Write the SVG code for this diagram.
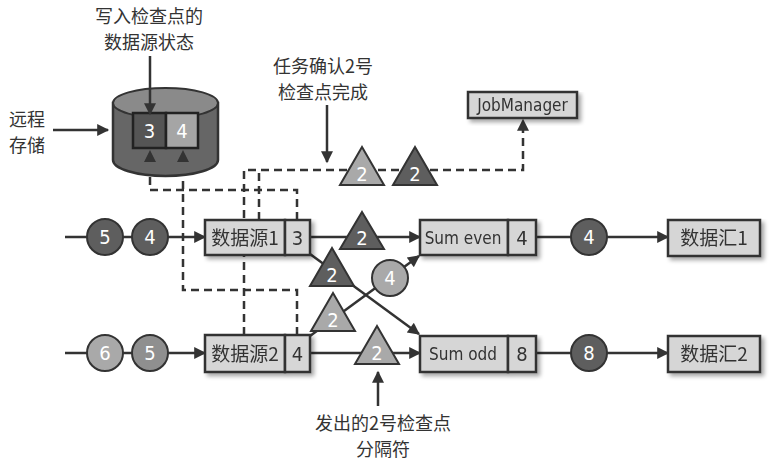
<svg xmlns="http://www.w3.org/2000/svg" width="774" height="466" viewBox="0 0 774 466">
<defs>
<marker id="ah" viewBox="0 0 10 10" refX="9" refY="5" markerWidth="14" markerHeight="12" markerUnits="userSpaceOnUse" orient="auto">
<path d="M0,0 L10,5 L0,10 z" fill="#333"/>
</marker>
<filter id="sh" x="-10%" y="-10%" width="130%" height="140%">
<feGaussianBlur in="SourceAlpha" stdDeviation="2"/>
<feOffset dx="3" dy="3" result="b"/>
<feComponentTransfer><feFuncA type="linear" slope="0.35"/></feComponentTransfer>
<feMerge><feMergeNode/><feMergeNode in="SourceGraphic"/></feMerge>
</filter>
<style>
.box{fill:#d6d6d6;stroke:#333;stroke-width:2.5}
.ln{stroke:#333;stroke-width:2.5;fill:none}
.dash{stroke:#333;stroke-width:2.5;fill:none;stroke-dasharray:8 5}
.dk{fill:#5e5e5e;stroke:#333;stroke-width:2}
.lt{fill:#a9a9a9;stroke:#333;stroke-width:2}
.md{fill:#8f8f8f;stroke:#333;stroke-width:2}
.wt{fill:#fff;font-family:"DejaVu Sans Condensed","Liberation Sans",sans-serif;font-size:20px;text-anchor:middle}
.bt{fill:#333;font-family:"DejaVu Sans Condensed","Liberation Sans",sans-serif;font-size:20px;text-anchor:middle}
.sm{fill:#333;font-family:"DejaVu Sans Condensed","Liberation Sans",sans-serif;font-size:17px;text-anchor:middle}
.cn{fill:#333;font-family:"Noto Sans CJK SC",sans-serif;font-size:19px;text-anchor:middle}
.lb{fill:#333;font-family:"Noto Sans CJK SC",sans-serif;font-size:18px;text-anchor:middle}
</style>
</defs>
<rect width="774" height="466" fill="#fff"/>

<g id="connectors">
<path class="dash" d="M297,220 V190 H150 V152" marker-end="url(#ah)"/>
<path class="dash" d="M297,335 V290 H183 V152" marker-end="url(#ah)"/>
<path class="dash" d="M244,335 V170 H523 V120" marker-end="url(#ah)"/>
<path class="dash" d="M259,220 V170"/>
<path class="ln" d="M65,237 H205" marker-end="url(#ah)"/>
<path class="ln" d="M65,353 H205" marker-end="url(#ah)"/>
<path class="ln" d="M310,237 H420" marker-end="url(#ah)"/>
<path class="ln" d="M310,353 H420" marker-end="url(#ah)"/>
<path class="ln" d="M310,254 L419,334" marker-end="url(#ah)"/>
<path class="ln" d="M310,336 L419,256" marker-end="url(#ah)"/>
<path class="ln" d="M536,237 H668" marker-end="url(#ah)"/>
<path class="ln" d="M536,353 H668" marker-end="url(#ah)"/>
<path class="ln" d="M53,130 H108" marker-end="url(#ah)"/>
<path class="ln" d="M327,105 V162" marker-end="url(#ah)"/>
<path class="ln" d="M378,406 V372" marker-end="url(#ah)"/>
</g>

<g id="storage">
<path d="M113,103 V160 A52.5,16 0 0 0 218,160 V103 Z" fill="#666" stroke="#333" stroke-width="2.5"/>
<ellipse cx="165.5" cy="103" rx="52.5" ry="15" fill="#8a8a8a" stroke="#333" stroke-width="2"/>
<rect x="133" y="113" width="33" height="35" fill="#555" stroke="#222" stroke-width="2.5"/>
<rect x="166" y="113" width="32" height="35" fill="#a5a5a5" stroke="#222" stroke-width="2.5"/>
<text class="wt" x="149.5" y="138">3</text>
<text class="wt" x="182" y="138">4</text>
<path d="M150,150 l-6,12 h12 z M183,150 l-6,12 h12 z" fill="#333"/>
<path class="ln" d="M150,56 V114" marker-end="url(#ah)"/>
</g>

<g id="labels">
<text class="lb" x="149" y="23">写入检查点的</text>
<text class="lb" x="149" y="49">数据源状态</text>
<text class="lb" x="27" y="126">远程</text>
<text class="lb" x="27" y="152">存储</text>
<text class="lb" x="323" y="73">任务确认2号</text>
<text class="lb" x="323" y="99">检查点完成</text>
<text class="lb" x="383" y="430">发出的2号检查点</text>
<text class="lb" x="383" y="456">分隔符</text>
</g>

<g id="jobmanager" filter="url(#sh)">
<rect class="box" x="468" y="92" width="109" height="26"/>
<text class="sm" x="522.5" y="111">JobManager</text>
</g>

<g id="source1" filter="url(#sh)">
<rect class="box" x="205" y="220" width="80" height="35"/>
<rect class="box" x="285" y="220" width="25" height="35"/>
<text class="cn" x="245" y="245">数据源1</text>
<text class="bt" x="297.5" y="245">3</text>
</g>
<g id="source2" filter="url(#sh)">
<rect class="box" x="205" y="335" width="80" height="37"/>
<rect class="box" x="285" y="335" width="25" height="37"/>
<text class="cn" x="245" y="361">数据源2</text>
<text class="bt" x="297.5" y="361">4</text>
</g>
<g id="sumeven" filter="url(#sh)">
<rect class="box" x="420" y="220" width="88" height="35"/>
<rect class="box" x="508" y="220" width="28" height="35"/>
<text class="sm" x="463" y="244">Sum even</text>
<text class="bt" x="522" y="245">4</text>
</g>
<g id="sumodd" filter="url(#sh)">
<rect class="box" x="420" y="336" width="88" height="36"/>
<rect class="box" x="508" y="336" width="28" height="36"/>
<text class="sm" x="463" y="360">Sum odd</text>
<text class="bt" x="522" y="361">8</text>
</g>
<g id="sink1" filter="url(#sh)">
<rect class="box" x="668" y="220" width="92" height="36"/>
<text class="cn" x="714" y="245">数据汇1</text>
</g>
<g id="sink2" filter="url(#sh)">
<rect class="box" x="668" y="336" width="92" height="36"/>
<text class="cn" x="714" y="361">数据汇2</text>
</g>

<g id="records">
<circle class="dk" cx="105" cy="237" r="18"/><text class="wt" x="105" y="244">5</text>
<circle class="dk" cx="150" cy="237" r="18"/><text class="wt" x="150" y="244">4</text>
<circle class="lt" cx="105" cy="353" r="18"/><text class="wt" x="105" y="360">6</text>
<circle class="md" cx="150" cy="353" r="18"/><text class="wt" x="150" y="360">5</text>
<circle class="lt" cx="390" cy="278" r="18"/><text class="wt" x="390" y="285">4</text>
<circle class="dk" cx="589" cy="237" r="18"/><text class="wt" x="589" y="244">4</text>
<circle class="dk" cx="589" cy="353" r="18"/><text class="wt" x="589" y="360">8</text>
</g>

<g id="barriers">
<path class="lt" d="M362,147 L384,185 L340,185 Z"/><text class="wt" x="362" y="181">2</text>
<path class="dk" d="M415,147 L437,185 L393,185 Z"/><text class="wt" x="415" y="181">2</text>
<path class="dk" d="M362,212 L384,249 L340,249 Z"/><text class="wt" x="362" y="245">2</text>
<path class="dk" d="M332,248 L354,286 L310,286 Z"/><text class="wt" x="332" y="282">2</text>
<path class="lt" d="M333,293 L355,331 L311,331 Z"/><text class="wt" x="333" y="327">2</text>
<path class="lt" d="M377,326 L399,364 L355,364 Z"/><text class="wt" x="377" y="360">2</text>
</g>
</svg>
